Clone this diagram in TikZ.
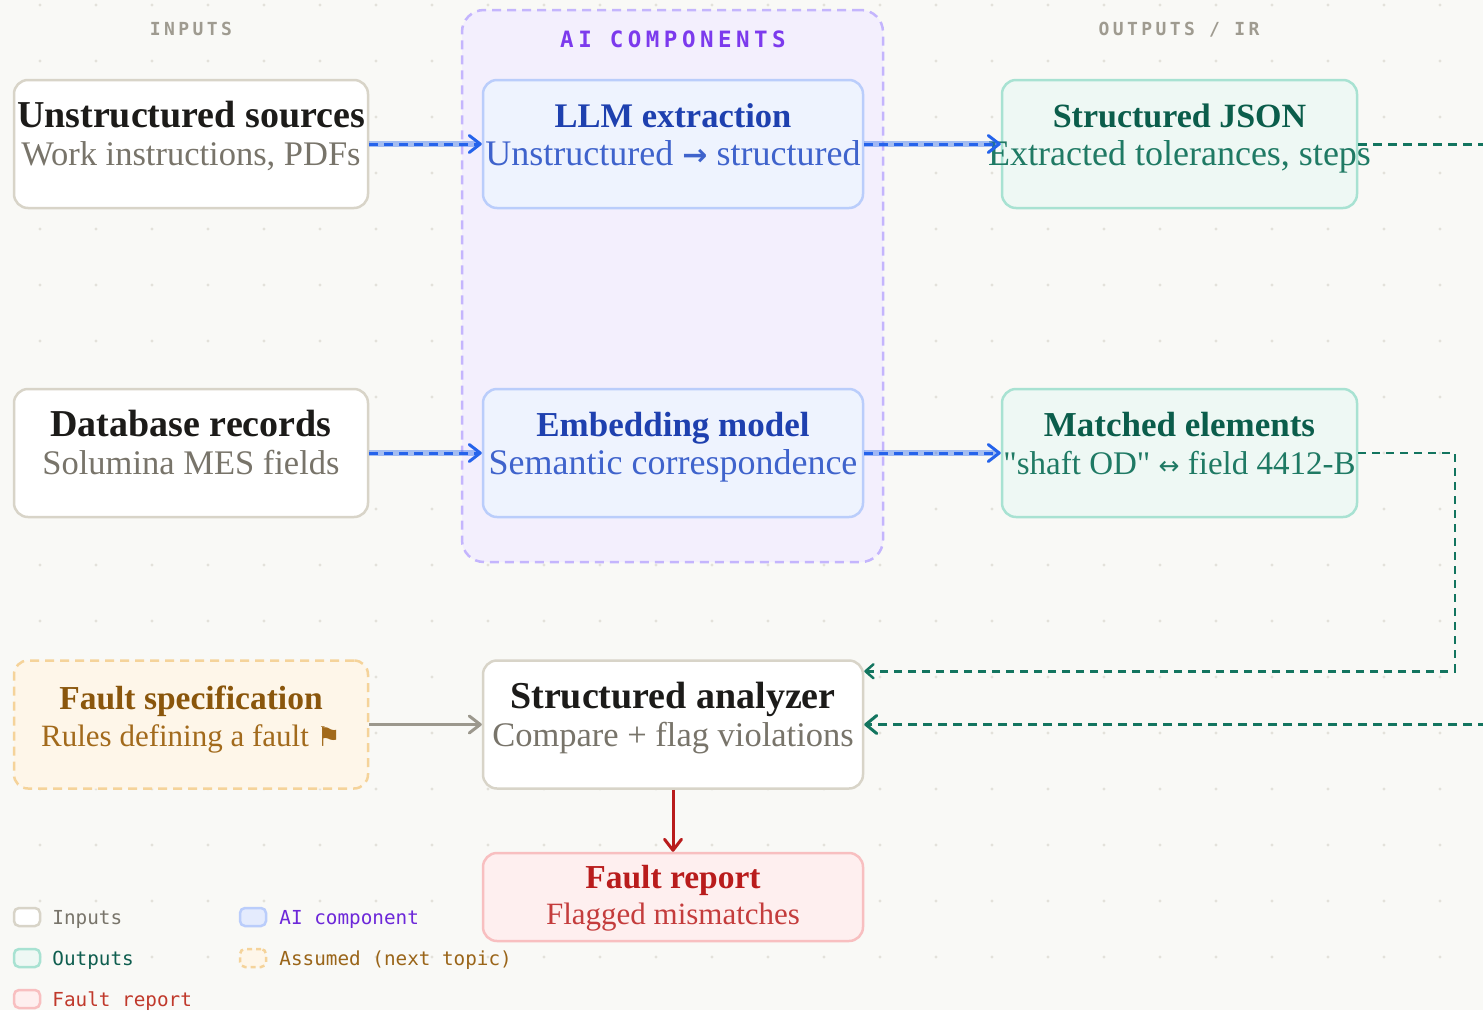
\documentclass[tikz,border=0pt]{standalone}
\usepackage{fontspec}
\setmainfont{Liberation Serif}
\newfontfamily\plainserif{Liberation Serif}
\newfontfamily\hdrfont[LetterSpace=19]{DejaVu Sans Mono}
\newfontfamily\grpfont[LetterSpace=20]{DejaVu Sans Mono}
\newfontfamily\legfont{DejaVu Sans Mono}
\newfontfamily\symfont{DejaVu Sans}
\usetikzlibrary{arrows.meta,calc}

% palette
\definecolor{bgc}{HTML}{F9F9F6}
\definecolor{dotc}{HTML}{E3E1DA}
\definecolor{hdrc}{HTML}{9F9B90}
\definecolor{grpc}{HTML}{7C3AED}
\definecolor{grpfill}{HTML}{F3EFFD}
\definecolor{grpline}{HTML}{C4B5FD}
\definecolor{inline}{HTML}{D8D4C8}
\definecolor{inttl}{HTML}{1C1B19}
\definecolor{insub}{HTML}{78746A}
\definecolor{aifill}{HTML}{EEF3FE}
\definecolor{ailine}{HTML}{BACDFB}
\definecolor{aittl}{HTML}{1E40AF}
\definecolor{aisub}{HTML}{3F63CC}
\definecolor{outfill}{HTML}{EEF8F4}
\definecolor{outline}{HTML}{A8E2D2}
\definecolor{outttl}{HTML}{0B5D4B}
\definecolor{outsub}{HTML}{1F7A64}
\definecolor{specfill}{HTML}{FEF6E9}
\definecolor{specline}{HTML}{F5D39A}
\definecolor{specttl}{HTML}{8A560C}
\definecolor{specsub}{HTML}{A26A1C}
\definecolor{repfill}{HTML}{FEEFEF}
\definecolor{repline}{HTML}{F8BFC0}
\definecolor{repttl}{HTML}{B91C1C}
\definecolor{repsub}{HTML}{C43C3C}
\definecolor{flowblue}{HTML}{2563EB}
\definecolor{flowteal}{HTML}{13755F}
\definecolor{flowgray}{HTML}{9C988D}
\definecolor{flowred}{HTML}{B91C1C}
\definecolor{legai}{HTML}{6D28D9}
\definecolor{legout}{HTML}{0F5E4F}
\definecolor{legspec}{HTML}{9A6519}
\definecolor{legrep}{HTML}{C0392B}

\begin{document}
\begin{tikzpicture}[x=1pt,y=-1pt,
  box/.style={rectangle, rounded corners=14pt, line width=2.5pt, inner sep=0pt,
    minimum width=354pt, minimum height=128pt},
  inbox/.style={box, draw=inline, fill=white},
  aibox/.style={box, draw=ailine, fill=aifill, minimum width=380pt},
  outbox/.style={box, draw=outline, fill=outfill, minimum width=355pt},
  specbox/.style={box, draw=specline, fill=specfill, dash pattern=on 9pt off 6pt},
  repbox/.style={box, draw=repline, fill=repfill, minimum width=380pt, minimum height=88pt},
  grpbox/.style={rectangle, rounded corners=22pt, line width=2.5pt, draw=grpline, fill=grpfill,
    dash pattern=on 9pt off 6pt, minimum width=421pt, minimum height=552pt, inner sep=0pt},
  ttl/.style={anchor=base, inner sep=0pt, font=\fontsize{38}{40}\selectfont\bfseries},
  sub/.style={anchor=base, inner sep=0pt, font=\fontsize{34.5}{36}\selectfont},
  ttlsm/.style={anchor=base, inner sep=0pt, font=\fontsize{33.5}{36}\selectfont\bfseries},
  subsm/.style={anchor=base, inner sep=0pt, font=\fontsize{31}{34}\selectfont},
  colhdr/.style={anchor=base, inner sep=0pt, text=hdrc, font=\hdrfont\fontsize{18}{20}\selectfont\bfseries},
  glow/.style={line width=6pt, draw=flowblue, draw opacity=0.4, shorten >=5pt},
  blueflow/.style={line width=3pt, draw=flowblue, dash pattern=on 9pt off 6pt,
    -{Straight Barb[length=11pt,width=17pt,round]}},
  tealflow/.style={line width=3pt, draw=flowteal, dash pattern=on 9pt off 6pt,
    -{Straight Barb[length=11pt,width=18pt,round]}},
  tealthin/.style={line width=2.5pt, draw=flowteal, dash pattern=on 8pt off 6pt,
    -{Straight Barb[length=8pt,width=14pt,round]}},
  grayflow/.style={line width=3pt, draw=flowgray, -{Straight Barb[length=11pt,width=17pt,round]}},
  redflow/.style={line width=3pt, draw=flowred, -{Straight Barb[length=11pt,width=17pt,round]}},
  legsw/.style={rectangle, rounded corners=5pt, line width=2.5pt, minimum width=26pt,
    minimum height=18pt, inner sep=0pt},
  legtxt/.style={anchor=base west, inner sep=0pt, font=\legfont\fontsize{19.3}{21}\selectfont}
]
% canvas
\fill[bgc] (0,0) rectangle (1483,1010);
\useasboundingbox (0,0) rectangle (1483,1010);

% dotted grid
\foreach \i in {0,...,26}
  \foreach \j in {0,...,17}
    \fill[dotc] (40+56*\i, 5+56*\j) circle (1.6pt);

% column headers
\node[colhdr] (hin) at (191,35) {INPUTS};
\node[colhdr] (hout) at (1179,35) {OUTPUTS / IR};

% AI group container
\node[grpbox] (grp) at (672.5,286) {};
\node[anchor=base, inner sep=0pt, text=grpc, font=\grpfont\fontsize{22.5}{24}\selectfont\bfseries]
  (hgrp) at (673,47) {AI COMPONENTS};

% boxes
\node[inbox] (src) at (191,144) {};
\node[inbox] (db) at (191,453) {};
\node[specbox] (spec) at (191,724.5) {};
\node[aibox] (llm) at (673,144) {};
\node[aibox] (emb) at (673,453) {};
\node[inbox, minimum width=380pt] (ana) at (673,724.5) {};
\node[repbox] (rep) at (673,897) {};
\node[outbox] (json) at (1179.5,144) {};
\node[outbox] (match) at (1179.5,453) {};

% box texts
\node[ttl, text=inttl] (srcT) at ([yshift=-49pt]src.north) {Unstructured sources};
\node[sub, text=insub] (srcS) at ([yshift=-87pt]src.north) {Work instructions, PDFs};
\node[ttl, text=inttl] (dbT) at ([yshift=-49pt]db.north) {Database records};
\node[sub, text=insub] (dbS) at ([yshift=-87pt]db.north) {Solumina MES fields};
\node[ttlsm, text=specttl] (specT) at ([yshift=-50pt]spec.north) {Fault specification};
\node[subsm, text=specsub] (specS) at ([yshift=-87pt]spec.north)
  {Rules defining a fault {\symfont\fontsize{27}{28}\selectfont ⚑}};
\node[ttl, text=aittl, font=\fontsize{34.5}{36}\selectfont\bfseries] (llmT) at ([yshift=-49pt]llm.north) {LLM extraction};
\node[sub, text=aisub, font=\fontsize{36}{38}\selectfont] (llmS) at ([yshift=-87pt]llm.north)
  {Unstructured {\symfont\bfseries\fontsize{30}{32}\selectfont →} structured};
\node[ttl, text=aittl, font=\fontsize{35}{36}\selectfont\bfseries] (embT) at ([yshift=-49pt]emb.north) {Embedding model};
\node[sub, text=aisub, font=\fontsize{36}{38}\selectfont] (embS) at ([yshift=-87pt]emb.north) {Semantic correspondence};
\node[ttl, text=inttl] (anaT) at ([yshift=-49pt]ana.north) {Structured analyzer};
\node[sub, text=insub] (anaS) at ([yshift=-87pt]ana.north) {Compare + flag violations};
\node[ttlsm, text=repttl] (repT) at ([yshift=-37pt]rep.north) {Fault report};
\node[subsm, text=repsub] (repS) at ([yshift=-73pt]rep.north) {Flagged mismatches};
\node[ttl, text=outttl, font=\fontsize{34}{36}\selectfont\bfseries] (jsonT) at ([yshift=-49pt]json.north) {Structured JSON};
\node[sub, text=outsub, font=\fontsize{36}{38}\selectfont] (jsonS) at ([yshift=-87pt]json.north) {Extracted tolerances, steps};
\node[ttl, text=outttl, font=\fontsize{35}{36}\selectfont\bfseries] (matchT) at ([yshift=-49pt]match.north) {Matched elements};
\node[sub, text=outsub, font=\plainserif\fontsize{33}{36}\selectfont] (matchS) at ([yshift=-87pt]match.north)
  {"shaft OD" {\symfont\fontsize{25}{28}\selectfont ↔} field 4412-B};

% data flow into and out of the AI components
\draw[glow] (src.east) -- (llm.west);
\draw[blueflow] (src.east) -- (llm.west);
\draw[glow] (llm.east) -- (json.west);
\draw[blueflow] (llm.east) -- (json.west);
\draw[glow] (db.east) -- (emb.west);
\draw[blueflow] (db.east) -- (emb.west);
\draw[glow] (emb.east) -- (match.west);
\draw[blueflow] (emb.east) -- (match.west);

% outputs fed back to the analyzer
\coordinate (mElbow) at (1455,453);
\coordinate (anaTop) at ($(ana.north east)+(0,12)$);
\draw[tealthin] (match.east) -- (mElbow) |- (anaTop);
\begin{scope}
  \clip (0,0) rectangle (1483,1010);
  \coordinate (jElbow) at (1530,144);
  \draw[tealflow] (json.east) -- (jElbow) |- (ana.east);
\end{scope}

% rules and report
\draw[grayflow] (spec.east) -- (ana.west);
\draw[redflow] (ana.south) -- (rep.north);

% legend
\node[legsw, draw=inline, fill=white] (lgIn) at (27,917) {};
\node[legtxt, text=insub] (lgInT) at ([xshift=11pt,yshift=-7pt]lgIn.east) {Inputs};
\node[legsw, draw=outline, fill=outfill] (lgOut) at (27,958) {};
\node[legtxt, text=legout] (lgOutT) at ([xshift=11pt,yshift=-7pt]lgOut.east) {Outputs};
\node[legsw, draw=repline, fill=repfill] (lgRep) at (27,999) {};
\node[legtxt, text=legrep] (lgRepT) at ([xshift=11pt,yshift=-7pt]lgRep.east) {Fault report};
\node[legsw, draw=ailine, fill=aifill!80!ailine] (lgAi) at (253,917) {};
\node[legtxt, text=legai] (lgAiT) at ([xshift=12pt,yshift=-7pt]lgAi.east) {AI component};
\node[legsw, draw=specline, fill=specfill, dash pattern=on 5pt off 4pt] (lgSpec) at (253,958) {};
\node[legtxt, text=legspec] (lgSpecT) at ([xshift=12pt,yshift=-7pt]lgSpec.east) {Assumed (next topic)};
\end{tikzpicture}
\end{document}
